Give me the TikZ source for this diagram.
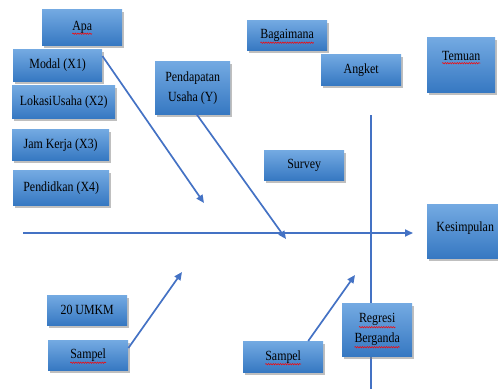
\documentclass[tikz,border=0pt]{standalone}
\usepackage{fontspec}
\setmainfont{Liberation Serif}[FakeStretch=0.85]
\usetikzlibrary{arrows.meta, shadows, calc, decorations.pathmorphing}

\definecolor{boxtop}{RGB}{116,170,226}
\definecolor{boxbot}{RGB}{54,120,194}
\definecolor{lineblue}{RGB}{68,114,196}

% red wavy spell-check line under a word: node, word, offset below centre
\newcommand\spellline[3]{%
  \pgfmathsetmacro\spellw{width("#2")*1.4}
  \draw[spell] ($(#1.center)+(-\spellw/2,#3)$) -- ++(\spellw,0);}

\begin{document}
\begin{tikzpicture}[x=1pt, y=-1pt,
    box/.style={anchor=north west, inner sep=0pt, align=center,
        top color=boxtop, bottom color=boxbot,
        drop shadow={shadow xshift=2pt, shadow yshift=-2.5pt, opacity=0.5},
        font=\fontsize{14}{20}\selectfont},
    link/.style={draw=lineblue, line width=1.7pt, -{Triangle[length=8pt,width=7pt]}},
    plain/.style={draw=lineblue, line width=1.7pt},
    spell/.style={red, line width=0.5pt, decorate,
        decoration={snake, segment length=2.4pt, amplitude=0.7pt}}]
    \clip (0,0) rectangle (498,389);

    % Main spine and the vertical divider
    \coordinate (spineL) at (23,233);
    \coordinate (spineR) at (413,233);
    \coordinate (vtop) at (371,115);
    \coordinate (vbot) at (371,389);
    \draw[plain] (vtop) -- (vbot);
    \draw[link] (spineL) -- (spineR);

    % Left column - Apa
    \node[box, minimum width=80pt, minimum height=36pt] (apa) at (42,9) {Apa};
    \node[box, minimum width=89pt, minimum height=32pt] (modal) at (13,49) {Modal (X1)};
    \node[box, minimum width=103pt, minimum height=33pt] (lokasi) at (12,85) {LokasiUsaha (X2)};
    \node[box, minimum width=97pt, minimum height=31pt] (jam) at (12,129) {Jam Kerja (X3)};
    \node[box, minimum width=96pt, minimum height=35pt] (pendidikan) at (13,170) {Pendidkan (X4)};
    \node[box, minimum width=75pt, minimum height=53pt] (pendapatan) at (155,61) {Pendapatan\\Usaha (Y)};

    % Middle - Bagaimana
    \node[box, minimum width=80pt, minimum height=30pt] (bagaimana) at (247,20) {Bagaimana};
    \node[box, minimum width=80pt, minimum height=31pt] (angket) at (321,54) {Angket};
    \node[box, minimum width=80pt, minimum height=30pt] (survey) at (264,150) {Survey};

    % Right - results
    \node[box, minimum width=68pt, minimum height=55pt, text height=10pt, text depth=18pt] (temuan) at (427,37) {Temuan};
    \node[box, minimum width=76pt, minimum height=54pt, text height=10pt, text depth=9pt] (kesimpulan) at (427,204) {Kesimpulan};

    % Bottom - Sampel
    \node[box, minimum width=80pt, minimum height=30pt] (umkm) at (47,295) {20 UMKM};
    \node[box, minimum width=80pt, minimum height=30pt] (sampelA) at (48,340) {Sampel};
    \node[box, minimum width=80pt, minimum height=31pt] (sampelB) at (243,341) {Sampel};
    \node[box, minimum width=70pt, minimum height=53pt] (regresi) at (342,303) {Regresi\\Berganda};

    % spell-check marks
    \spellline{apa}{Apa}{6.5}
    \spellline{bagaimana}{Bagaimana}{7.5}
    \spellline{temuan}{Temuan}{-1.5}
    \spellline{sampelA}{Sampel}{7.5}
    \spellline{sampelB}{Sampel}{7.5}
    \spellline{regresi}{Regresi}{-2.5}
    \spellline{regresi}{Berganda}{17.5}

    % Bones
    \coordinate (tipA) at (204,203);
    \coordinate (tipB) at (286,239);
    \coordinate (tipC) at (182,272);
    \coordinate (tipD) at (355,275);
    \draw[link] ([yshift=-7pt]modal.north east) -- (tipA);
    \draw[link] ([xshift=4pt]pendapatan.south) -- (tipB);
    \draw[link] ([yshift=-8pt]sampelA.north east) -- (tipC);
    \draw[link] ([xshift=25pt]sampelB.north) -- (tipD);
\end{tikzpicture}
\end{document}
